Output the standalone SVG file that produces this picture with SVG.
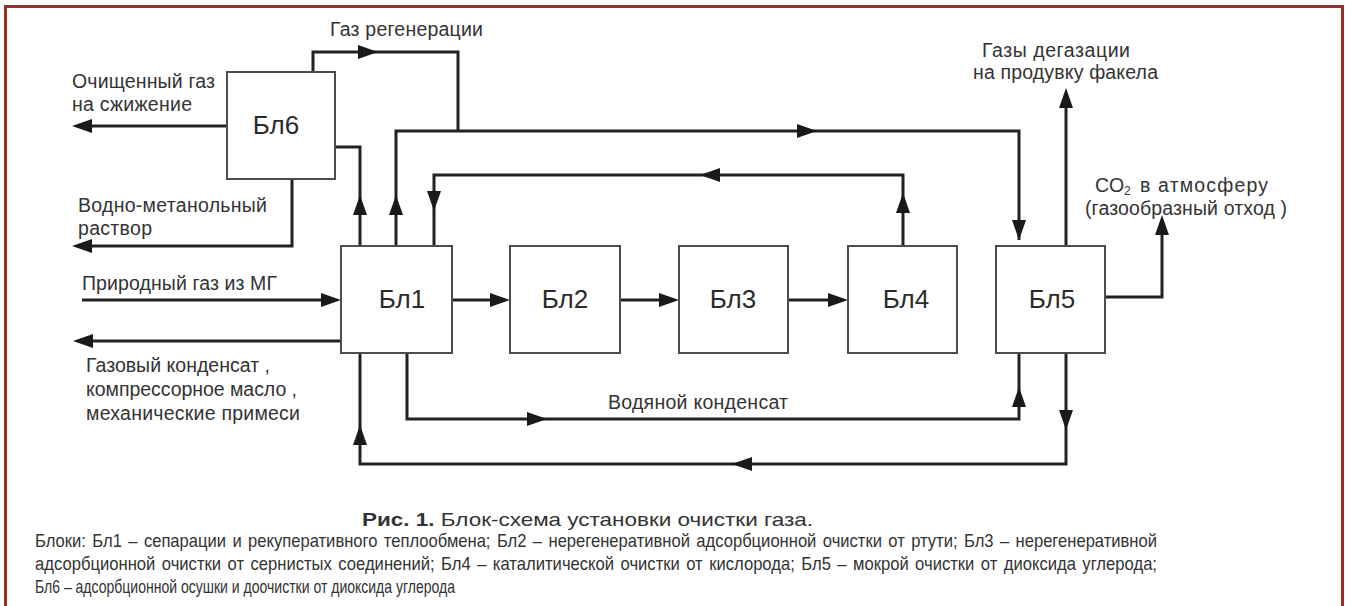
<svg xmlns="http://www.w3.org/2000/svg" xmlns:xlink="http://www.w3.org/1999/xlink" width="1345" height="606" viewBox="0 0 1345 606">
<style>
.box{fill:#fff;stroke:#4d4d4d;stroke-width:2}
.bl{font-family:"Liberation Sans",Arial,sans-serif;font-size:26px;fill:#2b2b2b;text-anchor:middle}
.lbl{font-family:"Liberation Sans",Arial,sans-serif;font-size:19.5px;fill:#333}
.ln{fill:none;stroke:#222;stroke-width:3;stroke-linejoin:miter}
.cap{font-family:"Liberation Sans Narrow","Liberation Sans",Arial,sans-serif;font-size:18.5px;fill:#333}
.ah{fill:#1a1a1a}
</style>
<defs>
<path id="ah" d="M0,0 L-20,-7 L-20,7 Z"/>
</defs>
<rect x="0" y="0" width="1345" height="606" fill="#fff"/>
<path d="M5.5,606 V6.5 H1342.5 V606" fill="none" stroke="#9c2f28" stroke-width="3"/>

<g id="connectors">
<path class="ln" d="M227,126 H80"/>
<path class="ln" d="M292,179 V246 H80"/>
<path class="ln" d="M313,72 V52 H458 V131"/>
<path class="ln" d="M335,147 H360 V246"/>
<path class="ln" d="M396,246 V131 H1019 V240"/>
<path class="ln" d="M903,246 V175 H434 V246"/>
<path class="ln" d="M1066,246 V95"/>
<path class="ln" d="M1105,297 H1162 V222"/>
<path class="ln" d="M82,300 H335"/>
<path class="ln" d="M341,341 H80"/>
<path class="ln" d="M452,300 H505"/>
<path class="ln" d="M620,300 H674"/>
<path class="ln" d="M788,300 H843"/>
<path class="ln" d="M407,353 V419 H1019 V353"/>
<path class="ln" d="M1066,353 V464 H360 V353"/>
<g class="ah">
<use xlink:href="#ah" transform="translate(72,126) rotate(180)"/>
<use xlink:href="#ah" transform="translate(72,246) rotate(180)"/>
<use xlink:href="#ah" transform="translate(378,52)"/>
<use xlink:href="#ah" transform="translate(360,195) rotate(-90)"/>
<use xlink:href="#ah" transform="translate(396,195) rotate(-90)"/>
<use xlink:href="#ah" transform="translate(434,211) rotate(90)"/>
<use xlink:href="#ah" transform="translate(817,131)"/>
<use xlink:href="#ah" transform="translate(700,175) rotate(180)"/>
<use xlink:href="#ah" transform="translate(903,193) rotate(-90)"/>
<use xlink:href="#ah" transform="translate(1019,240) rotate(90)"/>
<use xlink:href="#ah" transform="translate(1066,88) rotate(-90)"/>
<use xlink:href="#ah" transform="translate(1162,215) rotate(-90)"/>
<use xlink:href="#ah" transform="translate(341,300)"/>
<use xlink:href="#ah" transform="translate(73,341) rotate(180)"/>
<use xlink:href="#ah" transform="translate(510,300)"/>
<use xlink:href="#ah" transform="translate(679,300)"/>
<use xlink:href="#ah" transform="translate(848,300)"/>
<use xlink:href="#ah" transform="translate(547,419)"/>
<use xlink:href="#ah" transform="translate(1019,387) rotate(-90)"/>
<use xlink:href="#ah" transform="translate(1066,430) rotate(90)"/>
<use xlink:href="#ah" transform="translate(732,464) rotate(180)"/>
<use xlink:href="#ah" transform="translate(360,425) rotate(-90)"/>
</g>
</g>

<g id="bl6"><rect class="box" x="227" y="72" width="108" height="107"/><text class="bl" x="276" y="134">Бл6</text></g>
<g id="bl1"><rect class="box" x="341" y="246" width="111" height="107"/><text class="bl" x="402" y="308">Бл1</text></g>
<g id="bl2"><rect class="box" x="510" y="246" width="110" height="107"/><text class="bl" x="565" y="308">Бл2</text></g>
<g id="bl3"><rect class="box" x="679" y="246" width="109" height="107"/><text class="bl" x="733" y="308">Бл3</text></g>
<g id="bl4"><rect class="box" x="848" y="246" width="109" height="107"/><text class="bl" x="906" y="308">Бл4</text></g>
<g id="bl5"><rect class="box" x="996" y="246" width="109" height="107"/><text class="bl" x="1052" y="308">Бл5</text></g>

<g id="labels">
<text class="lbl" x="330" y="36" textLength="153">Газ регенерации</text>
<text class="lbl" x="72" y="88" textLength="143">Очищенный газ</text>
<text class="lbl" x="72" y="111" textLength="120">на сжижение</text>
<text class="lbl" x="78" y="212" textLength="189">Водно-метанольный</text>
<text class="lbl" x="78" y="235" textLength="74">раствор</text>
<text class="lbl" x="82" y="290" textLength="195">Природный газ из МГ</text>
<text class="lbl" x="86" y="372" textLength="184">Газовый конденсат ,</text>
<text class="lbl" x="86" y="396" textLength="211">компрессорное масло ,</text>
<text class="lbl" x="86" y="420" textLength="214">механические примеси</text>
<text class="lbl" x="608" y="409" textLength="180">Водяной конденсат</text>
<text class="lbl" x="982" y="57" textLength="148">Газы дегазации</text>
<text class="lbl" x="973" y="79" textLength="185">на продувку факела</text>
<text class="lbl" x="1095" y="192">CO<tspan x="1124" dy="3" font-size="12">2</tspan><tspan x="1140" dy="-3" textLength="128">в атмосферу</tspan></text>
<text class="lbl" x="1085" y="215" textLength="202">(газообразный отход )</text>
</g>

<g id="caption">
<text class="cap" x="362" y="526" font-size="20.5" textLength="451" lengthAdjust="spacingAndGlyphs"><tspan font-weight="bold">Рис. 1.</tspan> Блок-схема установки очистки газа.</text>
<text class="cap" x="35" y="547" textLength="1122" lengthAdjust="spacingAndGlyphs" word-spacing="2">Блоки: Бл1 – сепарации и рекуперативного теплообмена; Бл2 – нерегенеративной адсорбционной очистки от ртути; Бл3 – нерегенеративной</text>
<text class="cap" x="35" y="570" textLength="1122" lengthAdjust="spacingAndGlyphs" word-spacing="2">адсорбционной очистки от сернистых соединений; Бл4 – каталитической очистки от кислорода; Бл5 – мокрой очистки от диоксида углерода;</text>
<text class="cap" x="35" y="593" textLength="420" lengthAdjust="spacingAndGlyphs">Бл6 – адсорбционной осушки и доочистки от диоксида углерода</text>
</g>
</svg>
